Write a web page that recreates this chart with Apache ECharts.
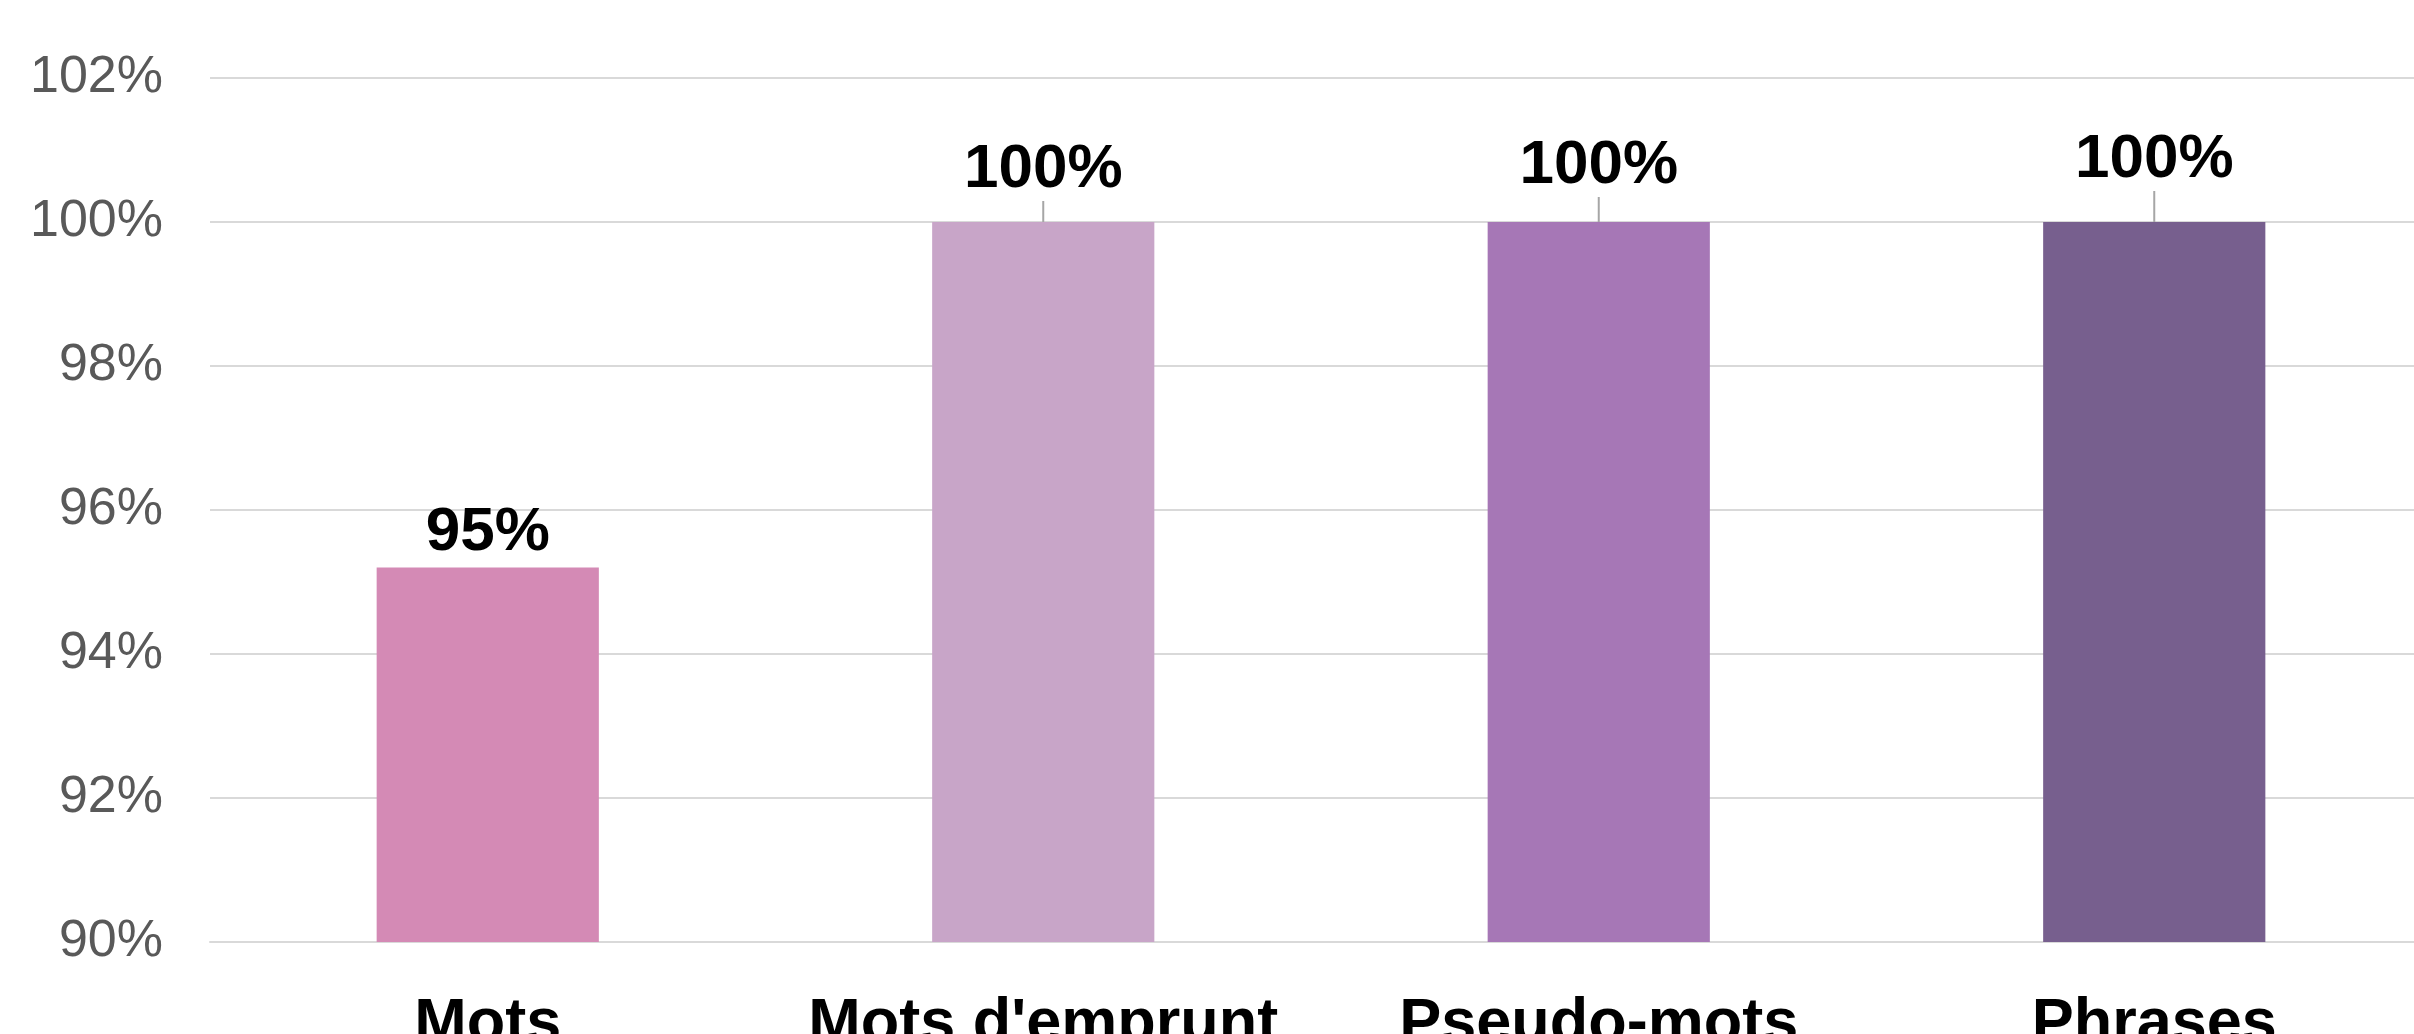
<!DOCTYPE html>
<html>
<head>
<meta charset="utf-8">
<script src="https://cdn.jsdelivr.net/npm/echarts@6/dist/echarts.min.js"></script>
<style>
  html, body { margin: 0; padding: 0; background: #fff; }
  #chart { width: 2414px; height: 1034px; }
</style>
</head>
<body>
<div id="chart"></div>
<script>
const categories = ['Mots', "Mots d'emprunt", 'Pseudo-mots', 'Phrases']
const values = [95.2, 100, 100, 100]
const barColors = ['#D48AB5', '#C8A5C8', '#A677B6', '#775F8E']

// labels of the 100% bars sit higher, joined to the bar by a leader line
const labelLift = [0, -17, -21, -27]

const chart = echarts.init(document.getElementById('chart'))

chart.setOption({
  animation: false,
  grid: {
    left: 210,
    right: -18,
    top: 78,
    bottom: 92,
    containLabel: false,
    outerBoundsMode: 'none'
  },
  xAxis: {
    type: 'category',
    data: categories,
    axisTick: { show: false },
    axisLine: { lineStyle: { color: '#d9d9d9', width: 2 } },
    axisLabel: {
      interval: 0,
      margin: 51,
      fontFamily: 'Liberation Sans, Arial',
      fontWeight: 'bold',
      fontSize: 63,
      color: '#000'
    }
  },
  yAxis: {
    type: 'value',
    min: 90,
    max: 102,
    interval: 2,
    axisLine: { show: false },
    axisTick: { show: false },
    splitLine: { lineStyle: { color: '#d9d9d9', width: 2 } },
    axisLabel: {
      margin: 47,
      formatter: '{value}%',
      fontFamily: 'Liberation Sans, Arial',
      fontSize: 52,
      color: '#595959'
    }
  },
  series: [
    {
      type: 'bar',
      barWidth: '40%',
      data: values.map((v, i) => ({
        value: v,
        itemStyle: { color: barColors[i] },
        labelLine: { show: labelLift[i] !== 0 }
      })),
      label: {
        show: true,
        position: 'top',
        distance: 4,
        formatter: p => Math.round(p.value) + '%',
        fontFamily: 'Liberation Sans, Arial',
        fontWeight: 'bold',
        fontSize: 62,
        color: '#000'
      },
      labelLayout: params => ({ dy: labelLift[params.dataIndex] }),
      labelLine: {
        show: true,
        lineStyle: { color: '#a6a6a6', width: 2 }
      }
    }
  ]
})
</script>
</body>
</html>
